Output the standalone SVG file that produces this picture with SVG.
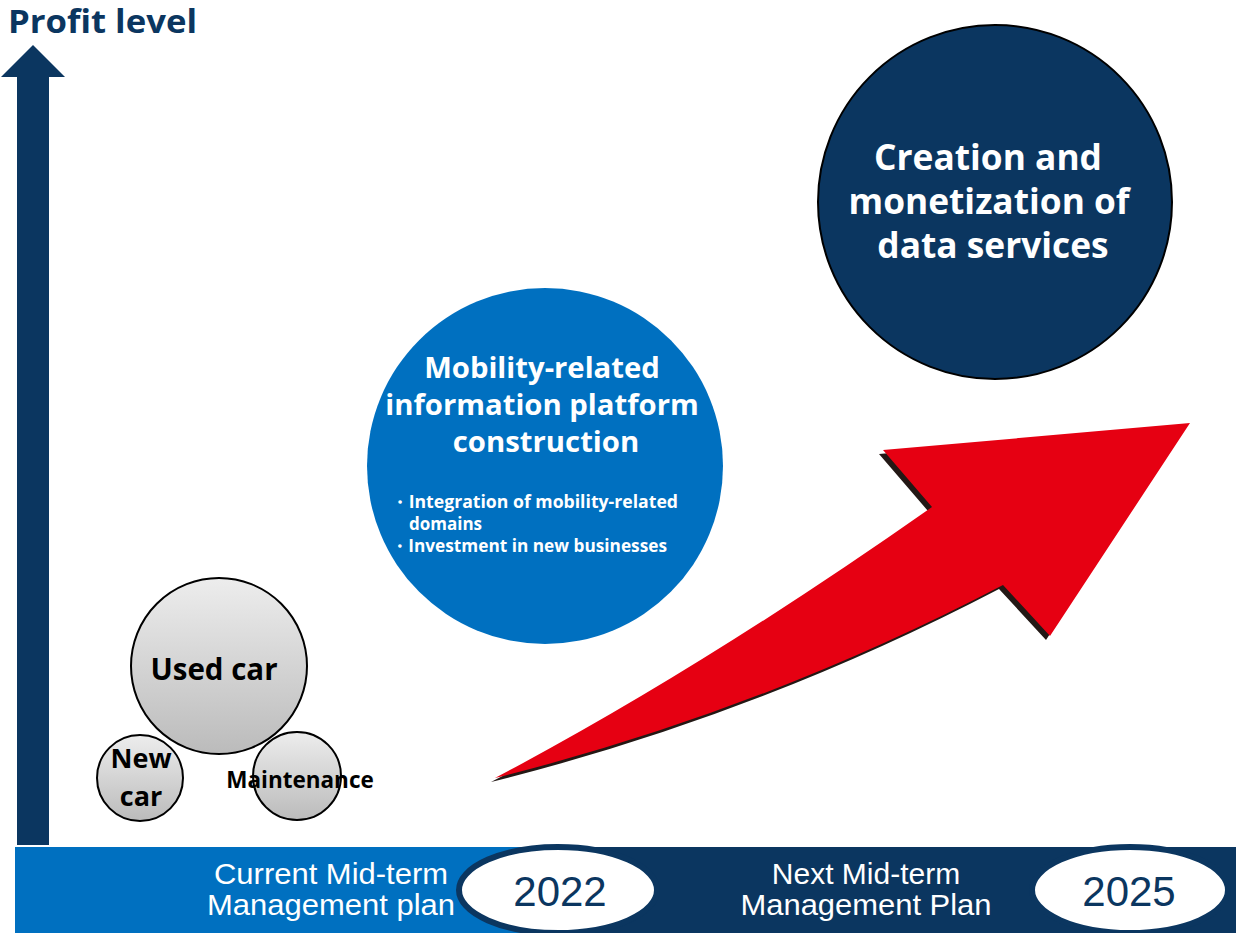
<svg xmlns="http://www.w3.org/2000/svg" width="1236" height="933" viewBox="0 0 1236 933">
<style>
.b{font-family:"Open Sans","Noto Sans","DejaVu Sans",sans-serif;font-weight:bold}
.n{font-family:"Liberation Sans",Arial,sans-serif}
.w{fill:#fff}
.k{fill:#000}
.g{stroke:#000;stroke-width:2}
</style>
<defs>
<linearGradient id="gr" x1="0" y1="0" x2="0" y2="1">
<stop offset="0" stop-color="#EDEDED"/>
<stop offset="1" stop-color="#BBBBBB"/>
</linearGradient>
</defs>
<rect width="1236" height="933" fill="#fff"/>
<g id="axis">
<text class="b" x="8" y="33" font-size="32" fill="#0B3660" textLength="189" lengthAdjust="spacingAndGlyphs">Profit level</text>
<polygon points="33,45 65,77 49,77 49,845 17,845 17,77 1,77" fill="#0B3660"/>
</g>
<g id="timeline">
<rect x="15" y="847" width="1221" height="86" fill="#0B3660"/>
<rect x="15" y="847" width="545" height="86" fill="#0070C0"/>
<text class="n w" x="331" y="884" font-size="30" text-anchor="middle" textLength="234" lengthAdjust="spacingAndGlyphs">Current Mid-term</text>
<text class="n w" x="331" y="915" font-size="30" text-anchor="middle" textLength="248" lengthAdjust="spacingAndGlyphs">Management plan</text>
<text class="n w" x="866" y="884" font-size="30" text-anchor="middle">Next Mid-term</text>
<text class="n w" x="866" y="915" font-size="30" text-anchor="middle" textLength="251" lengthAdjust="spacingAndGlyphs">Management Plan</text>
</g>
<g id="y2022">
<ellipse cx="558" cy="890" rx="99" ry="43" fill="#fff" stroke="#0B3660" stroke-width="6"/>
<text class="n" x="560" y="906" font-size="42" fill="#0B3660" text-anchor="middle">2022</text>
</g>
<g id="y2025">
<ellipse cx="1130" cy="890" rx="98" ry="43" fill="#fff" stroke="#0B3660" stroke-width="6"/>
<text class="n" x="1129" y="906" font-size="42" fill="#0B3660" text-anchor="middle">2025</text>
</g>
<g id="usedcar">
<circle cx="219" cy="666" r="88" fill="url(#gr)" class="g"/>
<text class="b k" x="214" y="680" font-size="29.5" text-anchor="middle">Used car</text>
</g>
<g id="newcar">
<circle cx="140" cy="778" r="43" fill="url(#gr)" class="g"/>
<text class="b k" x="141" y="768" font-size="27" text-anchor="middle">New</text>
<text class="b k" x="141" y="806" font-size="27" text-anchor="middle">car</text>
</g>
<g id="maintenance">
<circle cx="297" cy="776" r="44" fill="url(#gr)" class="g"/>
<text class="b k" x="300" y="788" font-size="22.5" text-anchor="middle">Maintenance</text>
</g>
<g id="platform">
<circle cx="545" cy="466" r="178" fill="#0070C0"/>
<text class="b w" x="542" y="378" font-size="29.3" text-anchor="middle">Mobility-related</text>
<text class="b w" x="542" y="415" font-size="29.3" text-anchor="middle">information platform</text>
<text class="b w" x="546" y="452" font-size="29.3" text-anchor="middle">construction</text>
<text class="b w" x="391" y="508" font-size="17" textLength="287" lengthAdjust="spacingAndGlyphs">・Integration of mobility-related</text>
<text class="b w" x="409" y="530" font-size="17">domains</text>
<text class="b w" x="391" y="552" font-size="17" textLength="276" lengthAdjust="spacingAndGlyphs">・Investment in new businesses</text>
</g>
<g id="dataservices">
<circle cx="995" cy="202" r="177" fill="#0B3660" stroke="#000" stroke-width="2"/>
<text class="b w" x="988" y="170" font-size="35.3" text-anchor="middle">Creation and</text>
<text class="b w" x="989" y="214" font-size="35.3" text-anchor="middle">monetization of</text>
<text class="b w" x="993" y="258" font-size="35.3" text-anchor="middle">data services</text>
</g>
<g id="connectors">
<path d="M495,778 Q700,670 932,507 L883,450 L1190,423 L1050,636 L1003,585 Q760,712 495,778 Z" fill="#231815" transform="translate(-4,4)"/>
<path d="M495,778 Q700,670 932,507 L883,450 L1190,423 L1050,636 L1003,585 Q760,712 495,778 Z" fill="#E60012"/>
</g>
</svg>
